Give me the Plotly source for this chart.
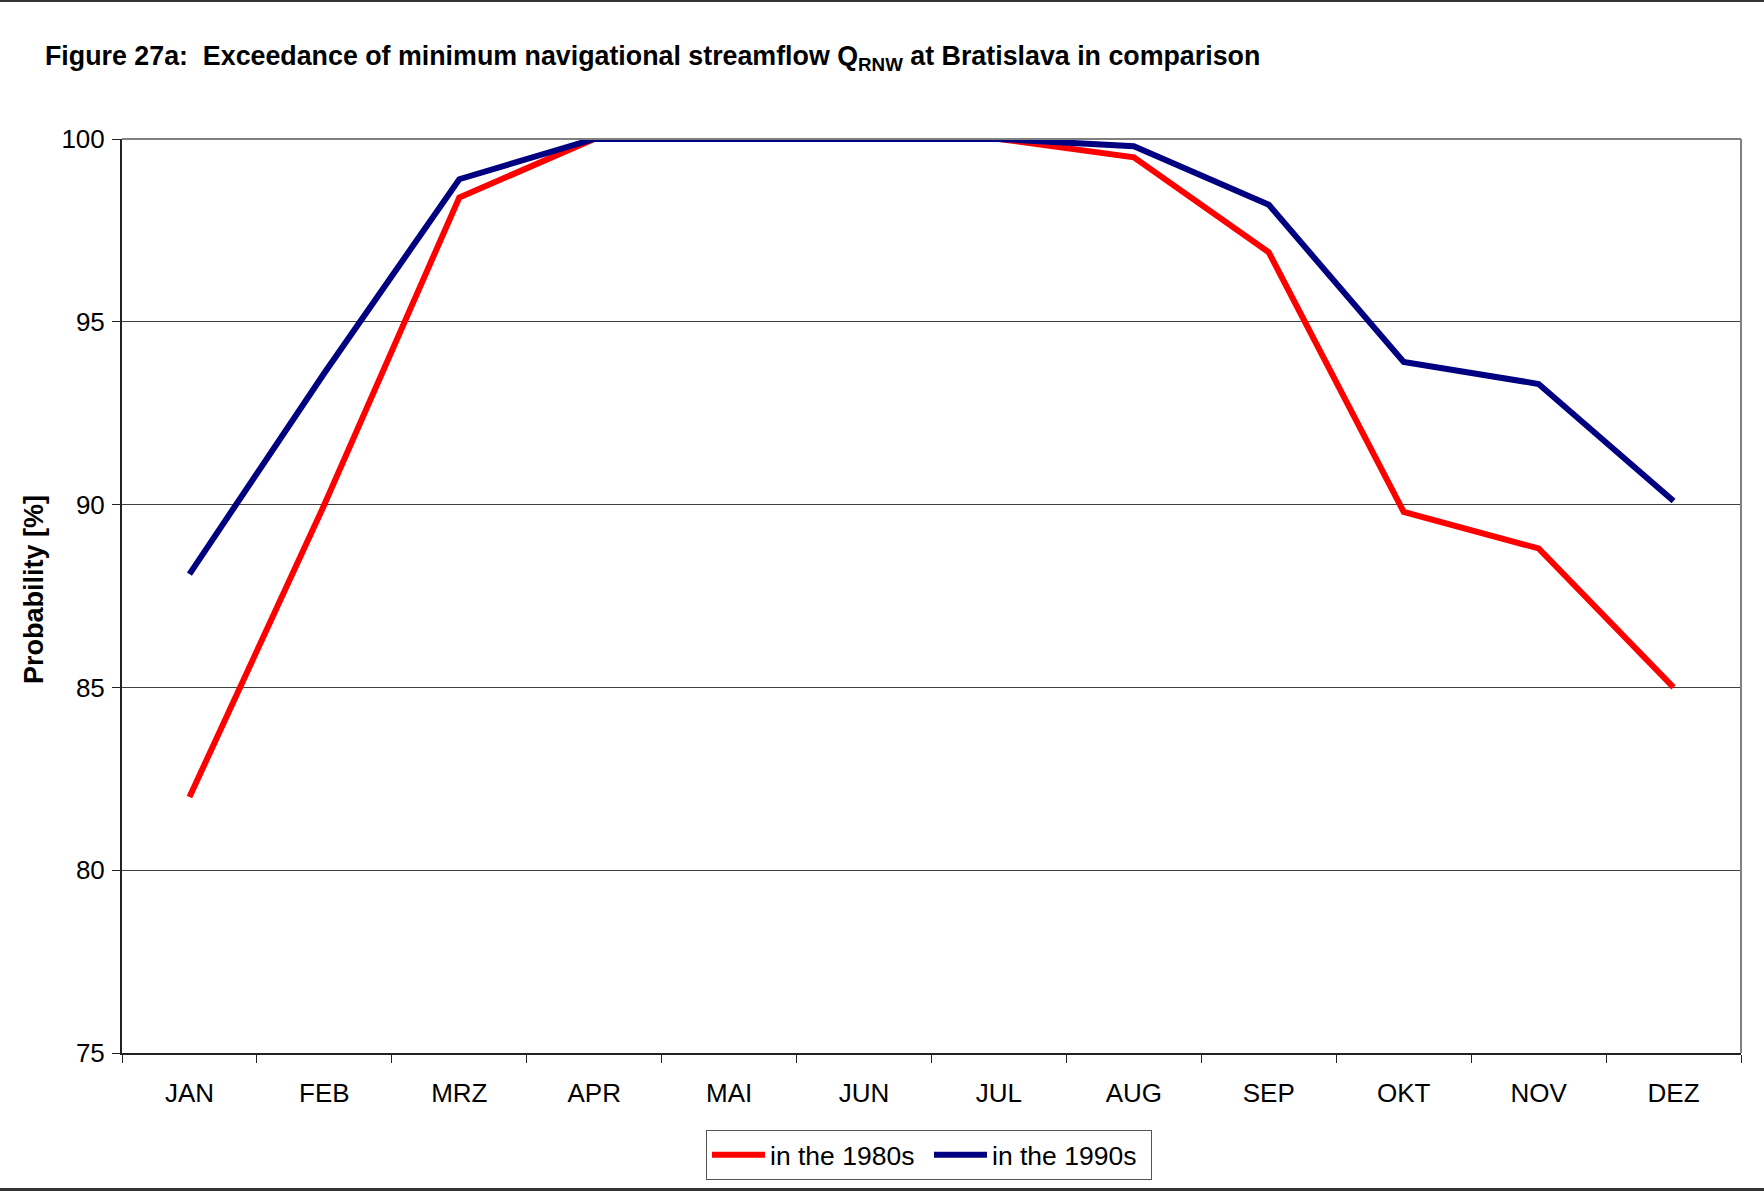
import plotly.graph_objects as go

# Monthly exceedance probabilities of the minimum navigational streamflow (Q_RNW)
months = ["JAN", "FEB", "MRZ", "APR", "MAI", "JUN", "JUL", "AUG", "SEP", "OKT", "NOV", "DEZ"]
prob_1980s = [82.0, 90.0, 98.4, 100.0, 100.0, 100.0, 100.0, 99.5, 96.9, 89.8, 88.8, 85.0]
prob_1990s = [88.1, 93.6, 98.9, 100.0, 100.0, 100.0, 100.0, 99.8, 98.2, 93.9, 93.3, 90.1]
y_ticks = [75, 80, 85, 90, 95, 100]

FONT = "Arial, Liberation Sans, sans-serif"
W, H = 1764, 1192
L, R, T, B = 122, 23, 139, 139
PW, PH = W - L - R, H - T - B

fig = go.Figure()
fig.add_trace(go.Scatter(x=months, y=prob_1980s, mode="lines", name="in the 1980s",
                         line=dict(color="#FF0000", width=6)))
fig.add_trace(go.Scatter(x=months, y=prob_1990s, mode="lines", name="in the 1990s",
                         line=dict(color="#000080", width=6)))

# page frame lines (top and bottom rules), expressed in plot-area paper units
def px_x(p):
    return (p - L) / PW

def px_y(p):
    return (H - B - p) / PH

shapes = [
    dict(type="line", xref="paper", yref="paper", x0=px_x(0), x1=px_x(W), y0=px_y(1), y1=px_y(1),
         line=dict(color="#333333", width=2)),
    dict(type="line", xref="paper", yref="paper", x0=px_x(0), x1=px_x(W), y0=px_y(1189.5), y1=px_y(1189.5),
         line=dict(color="#333333", width=3)),
    # grey top and right plot-area border
    dict(type="line", xref="paper", yref="paper", x0=0, x1=1, y0=1, y1=1,
         line=dict(color="#808080", width=2), layer="above"),
    dict(type="line", xref="paper", yref="paper", x0=1, x1=1, y0=0, y1=1,
         line=dict(color="#808080", width=2), layer="above"),
]

fig.update_layout(
    width=W, height=H,
    margin=dict(l=L, r=R, t=T, b=B),
    paper_bgcolor="white", plot_bgcolor="white",
    font=dict(family=FONT, color="black", size=26),
    title=dict(
        text="<b>Figure 27a:  Exceedance of minimum navigational streamflow Q<sub>RNW</sub> at Bratislava in comparison</b>",
        x=45 / W, xanchor="left", xref="container",
        y=1 - 56 / H, yanchor="middle", yref="container",
        font=dict(family=FONT, size=26.8, color="black"),
    ),
    showlegend=True,
    legend=dict(
        orientation="h", x=px_x(929), xanchor="center", y=px_y(1155), yanchor="middle",
        bgcolor="white", bordercolor="#555555", borderwidth=1,
        font=dict(family=FONT, size=26.5, color="black"),
        itemwidth=53, entrywidth=154, entrywidthmode="pixels", tracegroupgap=0,
    ),
    shapes=shapes,
    annotations=[dict(
        text="<b>Probability [%]</b>", xref="paper", yref="paper",
        x=px_x(34), y=px_y(590), xanchor="center", yanchor="middle",
        textangle=-90, showarrow=False,
        font=dict(family=FONT, size=27, color="black"),
    )],
)

fig.update_xaxes(
    type="category", categoryorder="array", categoryarray=months,
    range=[-0.5, 11.5],
    showline=True, linecolor="#222222", linewidth=2,
    ticks="outside", tickson="boundaries", ticklen=8, tickwidth=1, tickcolor="#222222",
    showgrid=False, zeroline=False,
    ticklabelstandoff=16,
    tickfont=dict(family=FONT, size=26, color="black"),
)
fig.update_yaxes(
    range=[75, 100], tickvals=y_ticks,
    showline=True, linecolor="#222222", linewidth=2,
    ticks="outside", ticklen=8, tickwidth=1, tickcolor="#222222",
    showgrid=True, gridcolor="#404040", gridwidth=1, zeroline=False,
    ticklabelstandoff=2,
    tickfont=dict(family=FONT, size=26, color="black"),
)

fig.write_html("out.html")
